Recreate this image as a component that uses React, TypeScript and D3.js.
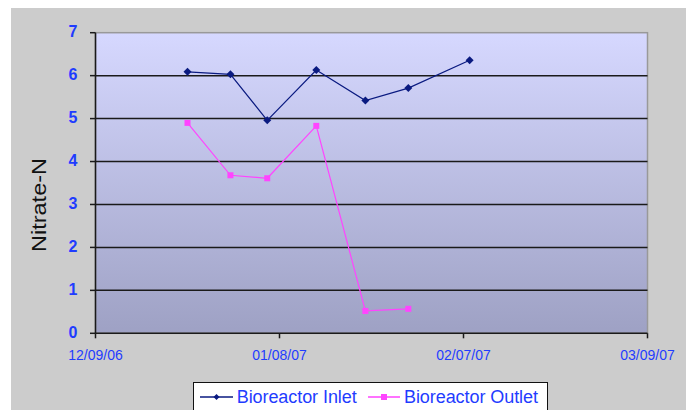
import React from "react";
import * as d3 from "d3";

const inletDates = ["2006-12-24", "2006-12-31", "2007-01-06", "2007-01-14", "2007-01-22", "2007-01-29", "2007-02-08"];
const inletValues = [6.09, 6.03, 4.96, 6.13, 5.42, 5.71, 6.36];
const outletDates = ["2006-12-24", "2006-12-31", "2007-01-06", "2007-01-14", "2007-01-22", "2007-01-29"];
const outletValues = [4.9, 3.68, 3.61, 4.83, 0.52, 0.57];
const xTickDates = ["2006-12-09", "2007-01-08", "2007-02-07", "2007-03-09"];
const xTickLabels = ["12/09/06", "01/08/07", "02/07/07", "03/09/07"];
const yTicks = [0, 1, 2, 3, 4, 5, 6, 7];
const seriesNames = ["Bioreactor Inlet", "Bioreactor Outlet"];
const yTitle = "Nitrate-N";

const parse = (s: string) => {
  const [y, m, d] = s.split("-").map(Number);
  return new Date(Date.UTC(y, m - 1, d));
};

export default function App() {
  const W = 693, H = 410;
  const left = 95.5, right = 647.5, top = 32.7, bottom = 333.3;
  const x = d3.scaleUtc().domain([parse(xTickDates[0]), parse(xTickDates[3])]).range([left, right]);
  const y = d3.scaleLinear().domain([0, 7]).range([bottom, top]);
  const inlet = inletDates.map((d, i) => ({ x: x(parse(d)), y: y(inletValues[i]) }));
  const outlet = outletDates.map((d, i) => ({ x: x(parse(d)), y: y(outletValues[i]) }));
  const line = d3.line<{ x: number; y: number }>().x((d) => d.x).y((d) => d.y);
  const blue = "#1f3cff";
  const navy = "#0a1a80";
  const magenta = "#ff44ff";
  const font = "'Liberation Sans', Arial, sans-serif";
  const diamond = (cx: number, cy: number, r = 4) => `M${cx},${cy - r}L${cx + r},${cy}L${cx},${cy + r}L${cx - r},${cy}Z`;

  return (
    <div style={{ position: "fixed", left: 0, top: 0, width: W, height: H, background: "#fff" }}>
      <svg width={W} height={H} style={{ display: "block" }}>
        <defs>
          <linearGradient id="pg" x1="0" y1="0" x2="0" y2="1">
            <stop offset="0" stopColor="#d6d8ff" />
            <stop offset="1" stopColor="#9ea1c4" />
          </linearGradient>
        </defs>
        <rect x={11} y={8} width={675} height={402} fill="#cccccc" />
        <rect x={left} y={top} width={right - left} height={bottom - top} fill="url(#pg)" stroke="#999" strokeWidth={1.5} />
        {yTicks.filter((t) => t > 0 && t < 7).map((t) => (
          <line key={t} x1={left} x2={right} y1={y(t)} y2={y(t)} stroke="#1a1a1a" strokeWidth={1.5} />
        ))}
        <line x1={left} x2={left} y1={top} y2={bottom} stroke="#1a1a1a" strokeWidth={1.5} />
        <line x1={left} x2={right} y1={bottom} y2={bottom} stroke="#1a1a1a" strokeWidth={1.5} />
        {yTicks.map((t) => (
          <g key={t}>
            <line x1={left - 5.5} x2={left} y1={y(t)} y2={y(t)} stroke="#1a1a1a" strokeWidth={1.5} />
            <text x={73} y={y(t) + 4.2} textAnchor="middle" fontFamily={font} fontWeight="bold" fontSize={16} fill={blue}>
              {t}
            </text>
          </g>
        ))}
        {xTickDates.map((d, i) => (
          <g key={d}>
            <line x1={x(parse(d))} x2={x(parse(d))} y1={bottom} y2={bottom + 5} stroke="#1a1a1a" strokeWidth={1.5} />
            <text x={x(parse(d))} y={360} textAnchor="middle" fontFamily={font} fontSize={14} fill={blue}>
              {xTickLabels[i]}
            </text>
          </g>
        ))}
        <text
          transform={`translate(46,205) rotate(-90)`}
          textAnchor="middle"
          fontFamily={font}
          fontSize={20}
          fill="#111"
          textLength={94}
          lengthAdjust="spacingAndGlyphs"
        >
          {yTitle}
        </text>
        <path d={line(outlet) || ""} fill="none" stroke={magenta} strokeWidth={1.2} />
        {outlet.map((p, i) => (
          <rect key={i} x={p.x - 3} y={p.y - 3} width={6} height={6} fill={magenta} />
        ))}
        <path d={line(inlet) || ""} fill="none" stroke={navy} strokeWidth={1.2} />
        {inlet.map((p, i) => (
          <path key={i} d={diamond(p.x, p.y)} fill={navy} />
        ))}
        <rect x={193.5} y={382.5} width={354} height={40} fill="#fff" stroke="#111" strokeWidth={1} />
        <line x1={200} x2={233} y1={397} y2={397} stroke={navy} strokeWidth={1.5} />
        <path d={diamond(216.5, 397, 3)} fill={navy} />
        <text x={236.7} y={402.7} fontFamily={font} fontSize={18} fill={blue} textLength={120} lengthAdjust="spacing">
          {seriesNames[0]}
        </text>
        <line x1={368} x2={400} y1={397} y2={397} stroke={magenta} strokeWidth={1.5} />
        <rect x={381} y={394} width={6} height={6} fill={magenta} />
        <text x={404} y={402.7} fontFamily={font} fontSize={18} fill={blue} textLength={134} lengthAdjust="spacing">
          {seriesNames[1]}
        </text>
      </svg>
    </div>
  );
}
